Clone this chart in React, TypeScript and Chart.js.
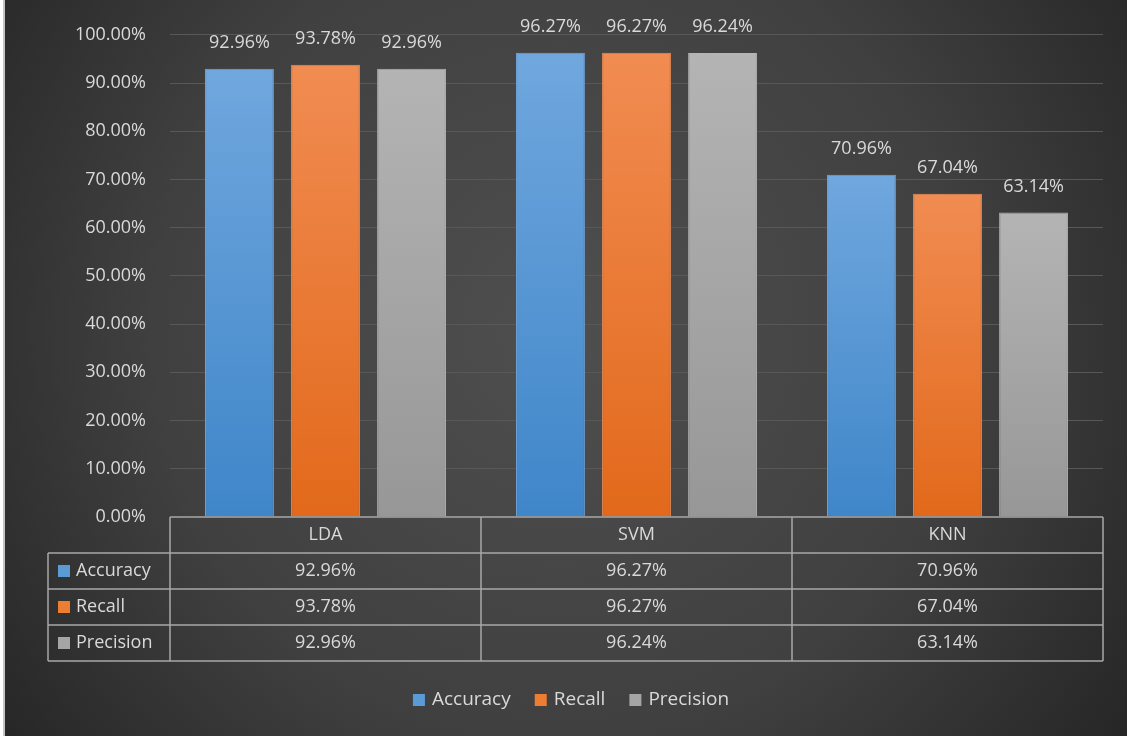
import React, { useEffect, useRef } from "react";
import { Chart, registerables } from "chart.js";

Chart.register(...registerables);

const categories = ["LDA", "SVM", "KNN"];
const seriesNames = ["Accuracy", "Recall", "Precision"];
const accuracy = [92.96, 96.27, 70.96];
const recall = [93.78, 96.27, 67.04];
const precision = [92.96, 96.24, 63.14];
const yTicks = [0, 10, 20, 30, 40, 50, 60, 70, 80, 90, 100];

const swatch = ["#5b9bd5", "#ed7d31", "#a5a5a5"];
const gradTop = ["#70a7de", "#f18c52", "#b4b4b4"];
const gradBottom = ["#3f86c9", "#e2691b", "#979797"];

const FONT = "'Open Sans', 'Noto Sans', sans-serif";
const TEXT = "#d9d9d9";
const fmt = (v: number) => v.toFixed(2) + "%";

export default function App() {
  const ref = useRef<HTMLCanvasElement | null>(null);

  useEffect(() => {
    document.body.style.margin = "0";
    const canvas = ref.current;
    if (!canvas) return;

    const values = [accuracy, recall, precision];

    const bgPlugin = {
      id: "bg",
      beforeDraw(chart: any) {
        const c = chart.ctx;
        const w = chart.width;
        const h = chart.height;
        c.save();
        c.fillStyle = "#ffffff";
        c.fillRect(0, 0, w, h);
        c.fillStyle = "#c4c4c4";
        c.fillRect(3, 0, 2, h);
        const g = c.createRadialGradient(560, 330, 20, 560, 330, 720);
        g.addColorStop(0, "#4e4e4e");
        g.addColorStop(0.55, "#404040");
        g.addColorStop(1, "#242424");
        c.fillStyle = g;
        c.fillRect(5, 0, w - 5, h);
        c.restore();
      },
    };

    const labelsPlugin = {
      id: "vals",
      afterDatasetsDraw(chart: any) {
        const c = chart.ctx;
        c.save();
        c.font = `18px ${FONT}`;
        c.fillStyle = TEXT;
        c.textAlign = "center";
        c.textBaseline = "middle";
        chart.data.datasets.forEach((ds: any, di: number) => {
          const meta = chart.getDatasetMeta(di);
          meta.data.forEach((bar: any, i: number) => {
            c.fillText(fmt(ds.data[i]), bar.x, bar.y - 26);
          });
        });
        c.restore();
      },
    };

    const tablePlugin = {
      id: "table",
      afterDraw(chart: any) {
        const c = chart.ctx;
        const a = chart.chartArea;
        const xs = chart.scales.x;
        const rowH = 36;
        const labelLeft = 48;
        const top = a.bottom;
        const n = categories.length;
        const catW = (a.right - a.left) / n;
        const rows = seriesNames.length;
        c.save();
        c.strokeStyle = "#a8a8a8";
        c.lineWidth = 1.5;
        c.beginPath();
        c.moveTo(a.left, top);
        c.lineTo(a.right, top);
        for (let r = 0; r <= rows; r++) {
          const y = top + rowH * (r + 1);
          c.moveTo(labelLeft, y);
          c.lineTo(a.right, y);
        }
        c.moveTo(labelLeft, top + rowH);
        c.lineTo(labelLeft, top + rowH * (rows + 1));
        for (let i = 0; i <= n; i++) {
          const x = i < n ? xs.getPixelForValue(i) - catW / 2 : xs.getPixelForValue(n - 1) + catW / 2;
          c.moveTo(x, top);
          c.lineTo(x, top + rowH * (rows + 1));
        }
        c.stroke();

        c.fillStyle = TEXT;
        c.font = `18px ${FONT}`;
        c.textAlign = "center";
        c.textBaseline = "middle";
        categories.forEach((cat, i) => {
          c.fillText(cat, xs.getPixelForValue(i), top + rowH / 2);
        });
        chart.data.datasets.forEach((ds: any, di: number) => {
          const yc = top + rowH * (di + 1) + rowH / 2;
          ds.data.forEach((v: number, i: number) => {
            c.fillStyle = TEXT;
            c.textAlign = "center";
            c.fillText(fmt(v), xs.getPixelForValue(i), yc);
          });
          c.fillStyle = swatch[di];
          c.fillRect(58, yc - 6, 12, 12);
          c.fillStyle = TEXT;
          c.textAlign = "left";
          c.fillText(ds.label, 76, yc);
        });

        // legend
        c.font = `19px ${FONT}`;
        c.textBaseline = "middle";
        const sq = 12;
        const gap = 7;
        const itemGap = 24;
        const widths = seriesNames.map((s) => sq + gap + c.measureText(s).width);
        const total = widths.reduce((p, q) => p + q, 0) + itemGap * (widths.length - 1);
        let x = 571 - total / 2;
        const ly = 700;
        seriesNames.forEach((s, i) => {
          c.fillStyle = swatch[i];
          c.fillRect(x, ly - sq / 2, sq, sq);
          c.fillStyle = TEXT;
          c.textAlign = "left";
          c.fillText(s, x + sq + gap, ly);
          x += widths[i] + itemGap;
        });
        c.restore();
      },
    };

    const makeGrad = (di: number) => (ctx: any) => {
      const chart = ctx.chart;
      const ys = chart.scales?.y;
      const a = chart.chartArea;
      if (!ys || !a || ctx.raw === undefined) return swatch[di];
      const topY = ys.getPixelForValue(ctx.raw);
      const g = chart.ctx.createLinearGradient(0, topY, 0, a.bottom);
      g.addColorStop(0, gradTop[di]);
      g.addColorStop(1, gradBottom[di]);
      return g;
    };

    const chart = new Chart(canvas, {
      type: "bar",
      data: {
        labels: categories,
        datasets: seriesNames.map((name, di) => ({
          label: name,
          data: values[di],
          backgroundColor: makeGrad(di),
          borderColor: gradTop[di],
          borderWidth: 1,
          categoryPercentage: 0.83,
          barPercentage: 0.8,
        })),
      },
      options: {
        animation: false,
        responsive: false,
        maintainAspectRatio: false,
        layout: { padding: { left: 0, right: 24, top: 33, bottom: 219 } },
        plugins: {
          legend: { display: false },
          tooltip: { enabled: false },
        },
        scales: {
          x: { display: false },
          y: {
            min: 0,
            max: 100,
            afterFit(scale: any) {
              scale.width = 170;
            },
            afterBuildTicks(scale: any) {
              scale.ticks = yTicks.map((v) => ({ value: v }));
            },
            border: { display: false },
            grid: {
              color: (ctx: any) => (ctx.tick && ctx.tick.value === 0 ? "rgba(0,0,0,0)" : "#585858"),
              lineWidth: 1,
              drawTicks: false,
            },
            ticks: {
              padding: 24,
              color: TEXT,
              font: { family: FONT, size: 18 },
              callback: (v: any) => fmt(Number(v)),
            },
          },
        },
      },
      plugins: [bgPlugin, labelsPlugin, tablePlugin],
    } as any);

    return () => chart.destroy();
  }, []);

  return <canvas ref={ref} width={1127} height={736} style={{ display: "block" }} />;
}
